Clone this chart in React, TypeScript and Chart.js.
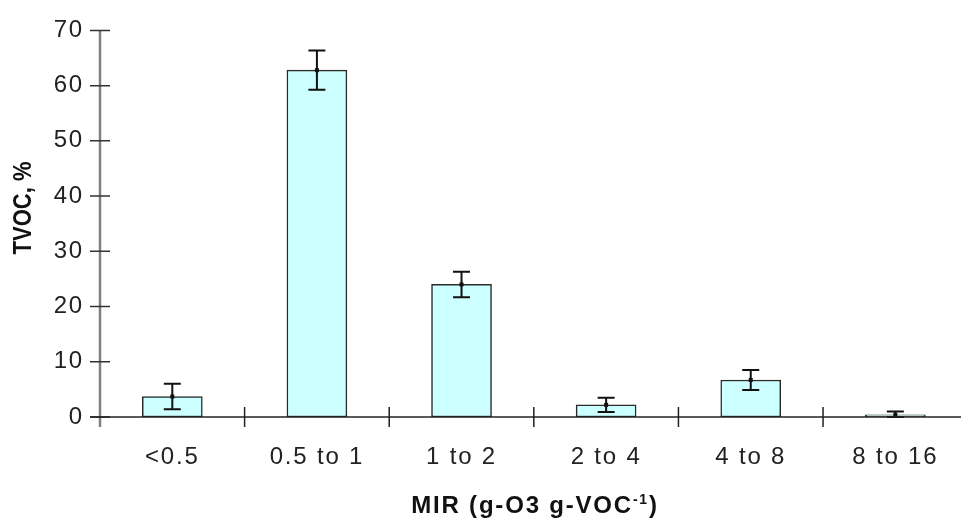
import { useEffect, useRef } from "react";
import { Chart, registerables } from "chart.js";
Chart.register(...registerables);

const categories = ["<0.5", "0.5 to 1", "1 to 2", "2 to 4", "4 to 8", "8 to 16"];
const tvocPercent = [3.7, 62.8, 24.0, 2.2, 6.7, 0.4];
const tvocError = [2.3, 3.55, 2.3, 1.3, 1.8, 0.6];
const yTickValues = [0, 10, 20, 30, 40, 50, 60, 70];
const yTitle = "TVOC, %";
const xTitleMain = "MIR (g-O3 g-VOC";
const xTitleSup = "-1";
const xTitleEnd = ")";

const FONT = "'Liberation Sans', Arial, Helvetica, sans-serif";
const SPACING = "1.8px";

export default function App() {
  const ref = useRef<HTMLCanvasElement>(null);
  useEffect(() => {
    document.body.style.margin = "0";
    const canvas = ref.current;
    if (!canvas) return;

    const decor = {
      id: "decor",
      beforeDraw(chart: any) {
        (chart.ctx as any).letterSpacing = SPACING;
      },
      afterDatasetsDraw(chart: any) {
        const ctx = chart.ctx;
        const ys = chart.scales.y;
        const meta = chart.getDatasetMeta(0);
        ctx.save();
        ctx.strokeStyle = "#111";
        ctx.fillStyle = "#111";
        ctx.lineWidth = 2;
        meta.data.forEach((bar: any, i: number) => {
          const x = bar.x;
          const yv = ys.getPixelForValue(tvocPercent[i]);
          const yt = ys.getPixelForValue(tvocPercent[i] + tvocError[i]);
          const yb = ys.getPixelForValue(Math.max(0, tvocPercent[i] - tvocError[i]));
          ctx.beginPath();
          ctx.moveTo(x, yt);
          ctx.lineTo(x, yb);
          ctx.moveTo(x - 8.5, yt);
          ctx.lineTo(x + 8.5, yt);
          ctx.moveTo(x - 8.5, yb);
          ctx.lineTo(x + 8.5, yb);
          ctx.stroke();
          ctx.fillRect(x - 2, yv - 2, 4, 4);
        });
        ctx.restore();
      },
      afterDraw(chart: any) {
        const ctx = chart.ctx;
        const ys = chart.scales.y;
        const xs = chart.scales.x;
        const area = chart.chartArea;
        const y0 = ys.getPixelForValue(0);
        ctx.save();
        // y axis line
        ctx.strokeStyle = "#808080";
        ctx.lineWidth = 2.5;
        ctx.beginPath();
        ctx.moveTo(area.left, ys.getPixelForValue(70));
        ctx.lineTo(area.left, y0 + 10);
        ctx.stroke();
        // y ticks
        ctx.strokeStyle = "#333";
        ctx.lineWidth = 1.5;
        ctx.beginPath();
        yTickValues.forEach((v) => {
          const py = ys.getPixelForValue(v);
          ctx.moveTo(area.left - 10, py);
          ctx.lineTo(area.left + 10, py);
        });
        ctx.stroke();
        // x axis line
        ctx.strokeStyle = "#222";
        ctx.lineWidth = 1.5;
        ctx.beginPath();
        ctx.moveTo(area.left - 10, y0);
        ctx.lineTo(area.right, y0);
        ctx.stroke();
        // x ticks at category boundaries
        ctx.beginPath();
        for (let k = 0; k < categories.length; k++) {
          const px = xs.getPixelForValue(k + 0.5);
          if (px > area.right) continue;
          ctx.moveTo(px, y0 - 10);
          ctx.lineTo(px, y0 + 10);
        }
        ctx.stroke();
        // y title
        ctx.fillStyle = "#111";
        ctx.letterSpacing = "0px";
        ctx.font = `bold 22px ${FONT}`;
        ctx.textAlign = "center";
        ctx.textBaseline = "middle";
        ctx.save();
        ctx.translate(24, 208);
        ctx.scale(1.13, 1);
        ctx.rotate(-Math.PI / 2);
        ctx.fillText(yTitle, 0, 0);
        ctx.restore();
        // x title with superscript
        ctx.letterSpacing = SPACING;
        ctx.textAlign = "left";
        ctx.textBaseline = "alphabetic";
        const mainFont = `bold 24px ${FONT}`;
        const supFont = `bold 14px ${FONT}`;
        ctx.font = mainFont;
        const w1 = ctx.measureText(xTitleMain).width;
        const w3 = ctx.measureText(xTitleEnd).width;
        ctx.font = supFont;
        const w2 = ctx.measureText(xTitleSup).width;
        const total = w1 + w2 + w3;
        const cx = 535;
        const base = 513;
        let sx = cx - total / 2;
        ctx.font = mainFont;
        ctx.fillText(xTitleMain, sx, base);
        sx += w1;
        ctx.font = supFont;
        ctx.fillText(xTitleSup, sx, base - 9);
        sx += w2;
        ctx.font = mainFont;
        ctx.fillText(xTitleEnd, sx, base);
        ctx.restore();
      },
    };

    const chart = new Chart(canvas, {
      type: "bar",
      data: {
        datasets: [
          {
            data: categories.map((_, i) => ({ x: i, y: tvocPercent[i] })),
            backgroundColor: "#ccffff",
            borderColor: "#2a2a2a",
            borderWidth: 1.5,
            borderSkipped: false,
            barThickness: 60,
          },
        ],
      },
      options: {
        animation: false,
        responsive: false,
        layout: { padding: { top: 28, right: 0, left: 0, bottom: 0 } },
        plugins: { legend: { display: false }, tooltip: { enabled: false } },
        scales: {
          x: {
            type: "linear",
            offset: false,
            min: -0.5,
            max: 5.454,
            afterBuildTicks: (s: any) => {
              s.ticks = categories.map((_, i) => ({ value: i }));
            },
            afterFit: (s: any) => {
              s.height = 102;
            },
            grid: { display: false, drawTicks: false, offset: false },
            border: { display: false },
            ticks: {
              autoSkip: false,
              maxRotation: 0,
              padding: 26,
              color: "#222",
              font: { family: FONT, size: 24 },
              callback: (v: any) => categories[Math.round(Number(v))] ?? "",
            },
          },
          y: {
            min: 0,
            max: 70,
            afterBuildTicks: (s: any) => {
              s.ticks = yTickValues.map((v) => ({ value: v }));
            },
            afterFit: (s: any) => {
              s.width = 100;
            },
            grid: { display: false, drawTicks: false },
            border: { display: false },
            ticks: {
              padding: 16,
              color: "#222",
              font: { family: FONT, size: 24 },
            },
          },
        },
      },
      plugins: [decor],
    });
    return () => chart.destroy();
  }, []);
  return (
    <div style={{ width: 961, height: 519, position: "relative" }}>
      <canvas ref={ref} width={961} height={519} />
    </div>
  );
}
